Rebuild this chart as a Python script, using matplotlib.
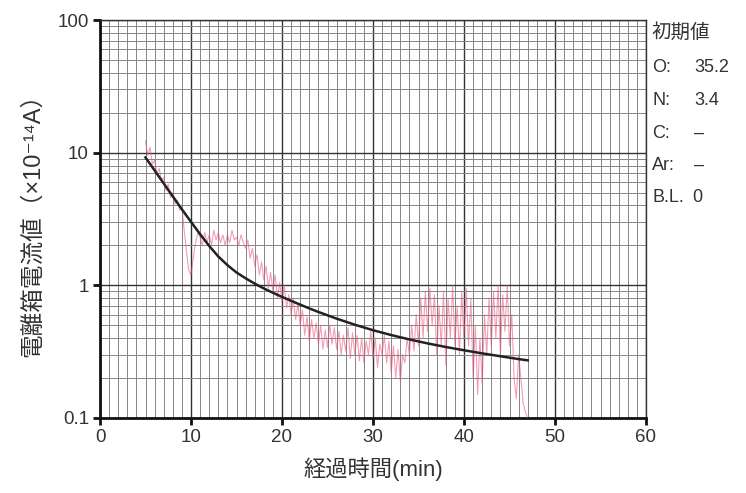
import numpy as np
import matplotlib.pyplot as plt
from matplotlib.ticker import MultipleLocator, LogLocator, FixedLocator, NullFormatter

plt.rcParams['font.family'] = ['Liberation Sans', 'Noto Sans CJK JP', 'DejaVu Sans']

# measured ion chamber current, sampled every 0.25 min from 5 min
meas_start = 5.0
meas_step = 0.25
meas_current = [
    12.2, 9.5, 11.0, 8.2,
    8.8, 6.9, 7.6, 6.2,
    6.5, 5.2, 5.8, 4.6,
    5.0, 4.1, 4.4, 3.7,
    3.9, 2.6, 1.8, 1.3,
    1.2, 1.6, 2.1, 2.5,
    2.3, 2.0, 2.5, 2.1,
    2.4, 2.0, 2.6, 2.2,
    2.5, 2.1, 2.4, 2.0,
    2.4, 2.1, 2.6, 2.2,
    2.3, 2.0, 2.4, 2.1,
    1.9, 2.2, 1.6, 1.9,
    1.4, 1.7, 1.2, 1.5,
    1.1, 1.4, 0.95, 1.25,
    0.9, 1.2, 0.8, 1.05,
    0.75, 1.0, 0.68, 0.85,
    0.6, 0.8, 0.55, 0.72,
    0.5, 0.65, 0.42, 0.58,
    0.38, 0.55, 0.4, 0.52,
    0.36, 0.5, 0.33, 0.46,
    0.34, 0.5, 0.36, 0.48,
    0.33, 0.45, 0.3, 0.42,
    0.32, 0.48, 0.28, 0.44,
    0.3, 0.42, 0.27, 0.4,
    0.26, 0.38, 0.3, 0.45,
    0.28, 0.4, 0.24, 0.36,
    0.3, 0.42, 0.26, 0.38,
    0.22, 0.35, 0.2, 0.33,
    0.19, 0.3, 0.26, 0.4,
    0.3, 0.5, 0.32, 0.6,
    0.35, 0.8, 0.4, 0.9,
    0.45, 0.95, 0.5, 0.85,
    0.3, 0.7, 0.35, 0.9,
    0.25, 0.8, 0.4, 1.0,
    0.35, 0.7, 0.3, 0.9,
    0.4, 0.95, 0.35, 0.8,
    0.2, 0.5, 0.15, 0.4,
    0.18, 0.6, 0.3, 0.8,
    0.35, 0.9, 0.4, 1.0,
    0.3, 0.85, 0.45, 1.0,
    0.35, 0.6, 0.2, 0.14,
    0.3, 0.2, 0.13, 0.11,
    0.1,
]
meas_time = meas_start + meas_step * np.arange(len(meas_current))

# approximation curve
fit_time = [5, 6, 7, 8, 9, 10, 11, 12, 13, 14, 15, 16, 17, 18, 19, 20,
            21, 22, 23, 24, 26, 28, 30, 32, 34, 36, 38, 40, 42, 44, 46, 47]
fit_current = [9.20, 7.35, 5.86, 4.68, 3.74, 3.01, 2.43, 1.98, 1.65, 1.42, 1.25, 1.13,
               1.03, 0.948, 0.879, 0.818, 0.764, 0.715, 0.670, 0.630, 0.561, 0.505,
               0.459, 0.422, 0.391, 0.365, 0.343, 0.324, 0.307, 0.292, 0.278, 0.272]

x_ticks = [0, 10, 20, 30, 40, 50, 60]
y_ticks = [0.1, 1, 10, 100]
y_ticklabels = ['0.1', '1', '10', '100']

init_names = ['O:', 'N:', 'C:', 'Ar:', 'B.L.']
init_values = ['35.2', '3.4', '–', '–', '0']

fig = plt.figure(figsize=(7.46, 4.93), dpi=100)
ax = fig.add_axes([100 / 746, 1 - 418 / 493, 546 / 746, 398 / 493])

ax.set_yscale('log')
ax.set_xlim(0, 60)
ax.set_ylim(0.1, 100)

# graph-paper grid
ax.xaxis.set_major_locator(FixedLocator(x_ticks))
ax.xaxis.set_minor_locator(MultipleLocator(1))
ax.yaxis.set_major_locator(FixedLocator(y_ticks))
ax.yaxis.set_minor_locator(LogLocator(base=10, subs=np.arange(2, 10)))
ax.yaxis.set_minor_formatter(NullFormatter())
ax.set_yticklabels(y_ticklabels)
ax.grid(which='minor', color='#858585', lw=0.7)
ax.grid(which='major', color='#333333', lw=1.0)
ax.set_axisbelow(True)

ax.plot(meas_time, meas_current, color='#e8507a', lw=0.8, alpha=0.55, zorder=3)
ax.plot(fit_time, fit_current, color='#222222', lw=1.8, zorder=4)

for side in ['left', 'bottom']:
    ax.spines[side].set_linewidth(2.0)
    ax.spines[side].set_color('#111111')
for side in ['top', 'right']:
    ax.spines[side].set_linewidth(1.0)
    ax.spines[side].set_color('#333333')

ax.tick_params(which='major', direction='out', length=5, width=2, labelsize=13.5,
               labelcolor='#333333', color='#111111', pad=3)
ax.tick_params(which='minor', length=0)

ax.set_xlabel('経過時間(min)', fontsize=16, color='#333333', labelpad=8)
ax.set_ylabel('電離箱電流値（×10⁻¹⁴A）', fontsize=17, color='#333333', labelpad=10)

# initial values beside the chart
fig.text(652 / 746, 1 - 33 / 493, '初期値', fontsize=14, color='#333333', va='center')
for i, (name, val) in enumerate(zip(init_names, init_values)):
    y = 1 - (68 + 32.5 * i) / 493
    fig.text(652 / 746, y, name, fontsize=13, color='#333333', va='center')
    vx = 694 / 746 if i < 4 else 692 / 746
    fig.text(vx, y, val, fontsize=13, color='#333333', va='center')

fig.savefig('out.png', dpi=100)
